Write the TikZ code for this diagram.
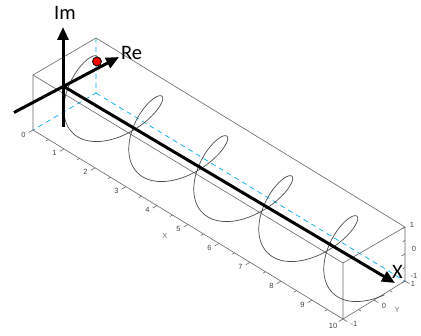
\documentclass[tikz,border=0pt]{standalone}
\usepackage{fontspec}
\setmainfont{Carlito}
\newfontfamily\tickfont{Liberation Sans}
\usetikzlibrary{arrows.meta}
\begin{document}
\begin{tikzpicture}[x=1pt,y=-1pt,
  boxline/.style={draw=black!60, line width=0.6pt},
  hidden/.style={draw=cyan, line width=0.7pt, dash pattern=on 5pt off 4pt},
  helixline/.style={draw=black!70, line width=0.7pt},
  axisarrow/.style={line width=3pt, -{Triangle[length=13pt,width=11pt]}},
  ticklab/.style={font={\tickfont\fontsize{7.5}{8}\selectfont}, text=black!75, inner sep=0},
  axname/.style={font={\tickfont\fontsize{7.5}{8}\selectfont}, text=black!55, inner sep=0},
  biglab/.style={font={\fontsize{20.5}{22}\selectfont}, inner sep=0},
  dotstyle/.style={circle, fill=red, draw=black, line width=0.8pt, minimum size=9pt, inner sep=0}
]
\useasboundingbox (0,0) rectangle (421,336);
% box corners
\coordinate (FTL) at (33,75);
\coordinate (BTL) at (96,38);
\coordinate (FBL) at (33,130);
\coordinate (BBL) at (96,93);
\coordinate (FTR) at (343,263);
\coordinate (BTR) at (405,227);
\coordinate (FBR) at (343,319);
\coordinate (BBR) at (405,281);
% hidden edges
\draw[hidden] (BTL) -- (BBL) -- (FBL);
\draw[hidden] (BBL) -- (BBR);
% visible edges
\draw[boxline] (FBL) -- (FTL) -- (BTL) -- (BTR) -- (BBR) -- (FBR) -- cycle;
\draw[boxline] (FTL) -- (FTR) -- (FBR);
\draw[boxline] (FTR) -- (BTR);
% x ticks
\foreach \i in {0,...,10} {
  \draw[boxline] ({33+31*\i},{130+18.9*\i}) -- ++(-4.3,2.5);
}
\foreach \i in {0.5,1.5,...,9.5} {
  \draw[boxline] ({33+31*\i},{130+18.9*\i}) -- ++(-2.6,1.5);
}
\foreach \i in {0,...,9} {
  \node[ticklab] (xl\i) at ({33+31*\i-9.5},{130+18.9*\i+4.5}) {\i};
}
\node[ticklab] (xl10) at (333,326) {10};
\node[axname] (xname) at (165,236) {X};
% y ticks
\foreach \k in {0,1,2} {
  \draw[boxline] ({343+31*\k},{319-19*\k}) -- ++(4.3,2.6);
}
\foreach \k in {0.5,1.5} {
  \draw[boxline] ({343+31*\k},{319-19*\k}) -- ++(2.6,1.6);
}
\node[ticklab] (yl1) at (354,324) {-1};
\node[ticklab] (yl2) at (384,306) {0};
\node[ticklab] (yl3) at (413,284) {1};
\node[axname] (yname) at (397,310) {Y};
% z ticks
\foreach \k in {0,1,2} {
  \draw[boxline] (405,{281-27*\k}) -- ++(-3.5,2);
}
\foreach \k in {0.5,1.5} {
  \draw[boxline] (405,{281-27*\k}) -- ++(-2.2,1.3);
}
\node[ticklab] (zl1) at (412,224.5) {1};
\node[ticklab] (zl2) at (414,248.5) {0};
\node[ticklab] (zl3) at (414,275.5) {-1};
% helix
\draw[helixline, variable=\t, domain=0:9.59, samples=500]
  plot ({64.5+32.5*\t+31.5*cos(180*\t)}, {82.5+20*\t-18.5*cos(180*\t)-26.5*sin(180*\t)});
% axes arrows
\coordinate (imS) at (63,127);
\coordinate (imE) at (63,27);
\coordinate (reS) at (14,112.5);
\coordinate (reE) at (119,57);
\coordinate (xS) at (63,86);
\coordinate (xE) at (395,283);
\draw[axisarrow] (imS) -- (imE);
\draw[axisarrow] (reS) -- (reE);
\draw[axisarrow] (xS) -- (xE);
\node[dotstyle] (dot) at (97,61.5) {};
\node[biglab] (im) at (65,12.5) {Im};
\node[biglab] (re) at (131.5,52.5) {Re};
\node[biglab] (xlab) at (397.5,271.5) {X};
\end{tikzpicture}
\end{document}
